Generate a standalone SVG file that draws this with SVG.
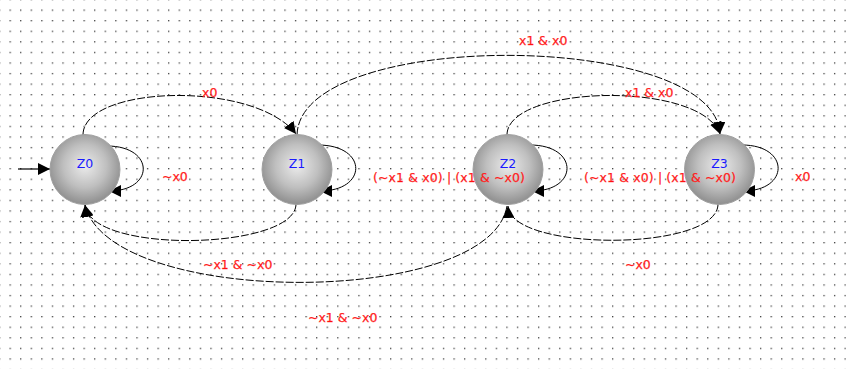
<svg xmlns="http://www.w3.org/2000/svg" width="846" height="369" viewBox="0 0 846 369">
<style>
.edge{fill:none;stroke:#000;stroke-width:1;stroke-dasharray:8 2}
.loop{fill:none;stroke:#000;stroke-width:1}
.node{fill:url(#ng);stroke:#a0a0a0;stroke-width:1}
.nl{font-family:"DejaVu Sans",Verdana,sans-serif;font-size:12.5px;fill:#1a1aff;text-anchor:middle}
.el{font-family:"DejaVu Sans",Verdana,sans-serif;font-size:12.5px;fill:#ff1010;stroke:#ff4040;stroke-width:0.25}
</style>
<defs>
<pattern id="grid" x="9.5" y="9.5" width="10.57" height="10.57" patternUnits="userSpaceOnUse">
<rect x="0" y="0" width="1.3" height="1.3" fill="#404040"/>
</pattern>
<radialGradient id="ng" cx="0.5" cy="0.45" r="0.56">
<stop offset="0" stop-color="#ebebeb"/>
<stop offset="0.55" stop-color="#bfbfbf"/>
<stop offset="1" stop-color="#8c8c8c"/>
</radialGradient>
<marker id="ah" markerUnits="userSpaceOnUse" markerWidth="13" markerHeight="12" refX="12" refY="6" orient="auto">
<path d="M0,0 L12,6 L0,12 Z" fill="#000"/>
</marker>
</defs>
<rect width="846" height="369" fill="#fff"/>
<rect width="846" height="369" fill="url(#grid)"/>
<g id="connectors">
<line x1="18" y1="169" x2="50" y2="169" stroke="#000" stroke-width="1.2" marker-end="url(#ah)"/>
<path id="e-z0-z1" class="edge" d="M83,135 C83,85 255,80 296,134" marker-end="url(#ah)"/>
<path id="e-z0-z0" class="loop" d="M107,146 C155,146 155,191 109,191" marker-end="url(#ah)"/>
<path id="e-z1-z1" class="loop" d="M318,145 C368,145 368,191 320,191" marker-end="url(#ah)"/>
<path id="e-z2-z2" class="loop" d="M530,145 C579,145 579,191 532,191" marker-end="url(#ah)"/>
<path id="e-z3-z3" class="loop" d="M742,145 C790,145 790,191 743,191" marker-end="url(#ah)"/>
<path id="e-z1-z3" class="edge" d="M297,135 C300,28 715,30 720,134" marker-end="url(#ah)"/>
<path id="e-z2-z3" class="edge" d="M507,135 C507,85 700,80 720,134" marker-end="url(#ah)"/>
<path id="e-z1-z0" class="edge" d="M296,204 C296,250 90,255 85,205" marker-end="url(#ah)"/>
<path id="e-z2-z0" class="edge" d="M507,206 C490,308 110,308 85,205" marker-end="url(#ah)"/>
<path id="e-z3-z2" class="edge" d="M718,204 C718,252 510,252 508,206" marker-end="url(#ah)"/>
</g>
<g id="Z0"><circle class="node" cx="85" cy="169.5" r="35"/><text class="nl" x="85" y="168">Z0</text></g>
<g id="Z1"><circle class="node" cx="297" cy="169.5" r="35"/><text class="nl" x="297" y="168">Z1</text></g>
<g id="Z2"><circle class="node" cx="508" cy="169.5" r="35"/><text class="nl" x="508" y="167.5">Z2</text></g>
<g id="Z3"><circle class="node" cx="719.5" cy="169.5" r="35"/><text class="nl" x="719.5" y="167.5">Z3</text></g>
<g id="edge-labels">
<text class="el" x="202" y="97">x0</text>
<text class="el" x="162" y="181">~x0</text>
<text class="el" x="519" y="45">x1 &amp; x0</text>
<text class="el" x="625" y="97">x1 &amp; x0</text>
<text class="el" x="373" y="181.5" textLength="152">(~x1 &amp; x0) | (x1 &amp; ~x0)</text>
<text class="el" x="584" y="181.5" textLength="152">(~x1 &amp; x0) | (x1 &amp; ~x0)</text>
<text class="el" x="795" y="181">x0</text>
<text class="el" x="203" y="269">~x1 &amp; ~x0</text>
<text class="el" x="625" y="269">~x0</text>
<text class="el" x="308" y="322">~x1 &amp; ~x0</text>
</g>
</svg>
